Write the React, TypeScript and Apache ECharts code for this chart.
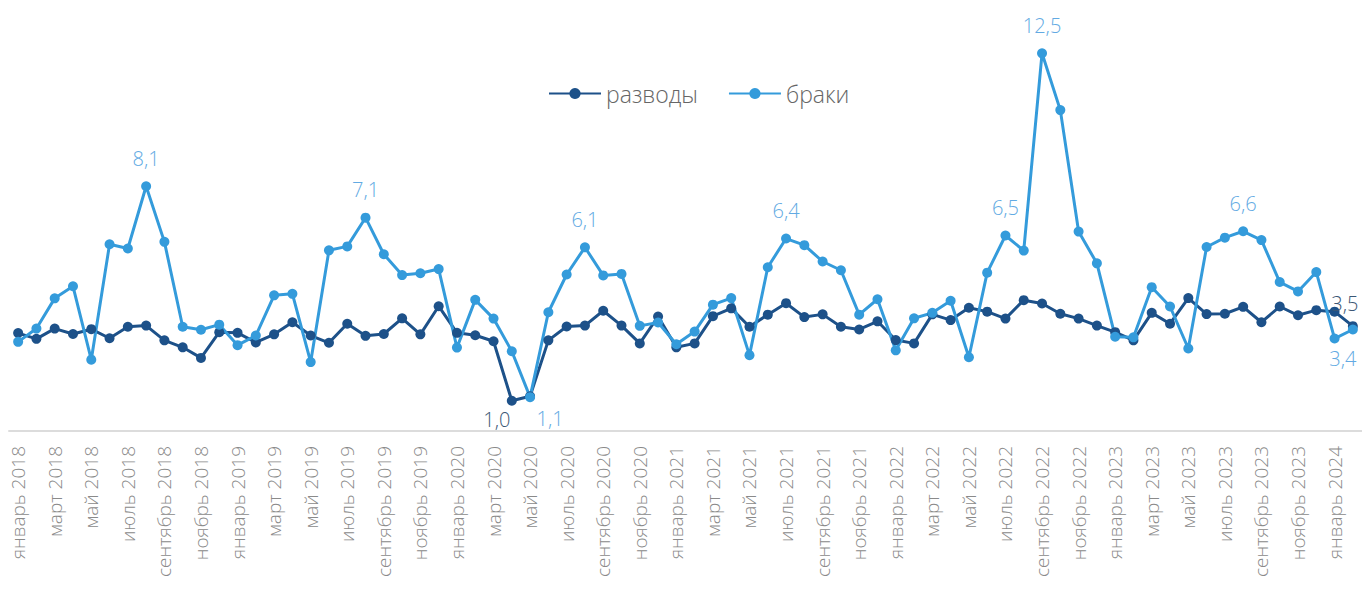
import React, { useEffect, useRef } from "react";
import * as echarts from "echarts";

const monthNames = ["январь", "февраль", "март", "апрель", "май", "июнь", "июль", "август", "сентябрь", "октябрь", "ноябрь", "декабрь"];
const years = [2018, 2019, 2020, 2021, 2022, 2023, 2024];
const monthsInLastYear = 2;

const divorces = [
  3.24, 3.05, 3.39, 3.21, 3.37, 3.07, 3.45, 3.49, 3.0, 2.77, 2.42, 3.27,
  3.25, 2.93, 3.2, 3.6, 3.16, 2.92, 3.55, 3.15, 3.21, 3.73, 3.2, 4.13,
  3.25, 3.17, 2.97, 1.0, 1.15, 3.0, 3.46, 3.49, 3.98, 3.49, 2.9, 3.79,
  2.77, 2.9, 3.8, 4.06, 3.45, 3.85, 4.23, 3.77, 3.86, 3.45, 3.36, 3.63,
  3.01, 2.9, 3.86, 3.67, 4.08, 3.95, 3.72, 4.33, 4.22, 3.88, 3.72, 3.49,
  3.27, 3.0, 3.91, 3.55, 4.4, 3.87, 3.88, 4.11, 3.6, 4.12, 3.83, 4.0,
  3.95, 3.47,
];

const marriages = [
  2.95, 3.39, 4.39, 4.79, 2.36, 6.18, 6.04, 8.1, 6.26, 3.45, 3.35, 3.52,
  2.84, 3.16, 4.49, 4.54, 2.28, 5.98, 6.11, 7.06, 5.85, 5.16, 5.22, 5.36,
  2.76, 4.34, 3.72, 2.64, 1.12, 3.93, 5.18, 6.08, 5.15, 5.2, 3.48, 3.59,
  2.87, 3.29, 4.18, 4.4, 2.51, 5.42, 6.37, 6.15, 5.61, 5.32, 3.85, 4.36,
  2.67, 3.73, 3.91, 4.31, 2.44, 5.24, 6.47, 5.97, 12.5, 10.62, 6.6, 5.55,
  3.12, 3.1, 4.76, 4.12, 2.73, 6.09, 6.4, 6.61, 6.32, 4.93, 4.62, 5.26,
  3.06, 3.36,
];

// labelled points: index -> label offset from the point centre
const divorceLabels: Record<number, [number, number]> = { 27: [-15, 19], 73: [-8, -23] };
const marriageLabels: Record<number, [number, number]> = {
  7: [0, -28], 19: [0, -28], 28: [20, 21], 31: [0, -28], 42: [0, -28],
  54: [0, -28], 56: [0, -28], 67: [0, -28], 73: [-10, 29],
};

const categories: string[] = [];
years.forEach((y, yi) => {
  const n = yi === years.length - 1 ? monthsInLastYear : 12;
  for (let m = 0; m < n; m++) categories.push(`${monthNames[m]} ${y}`);
});

const FONT = "'Open Sans', sans-serif";
const DARK = "#1d5189";
const LIGHT = "#349bdb";

function buildData(values: number[], labels: Record<number, [number, number]>, color: string) {
  return values.map((v, i) => {
    const off = labels[i];
    if (!off) return v;
    return {
      value: v,
      label: {
        show: true,
        position: "inside",
        offset: off,
        formatter: (p: any) => Number(p.value).toFixed(1).replace(".", ","),
        color,
        fontSize: 20,
        fontFamily: FONT,
        fontWeight: 300,
      },
    };
  });
}

export default function App() {
  const ref = useRef<HTMLDivElement>(null);
  useEffect(() => {
    if (!ref.current) return;
    const chart = echarts.init(ref.current, undefined, { renderer: "svg" });
    chart.setOption({
      animation: false,
      backgroundColor: "#ffffff",
      legend: {
        data: ["разводы", "браки"],
        left: 543,
        top: 77,
        itemWidth: 52,
        itemHeight: 14,
        itemGap: 30,
        textStyle: { fontSize: 23, color: "#666666", fontFamily: FONT, fontWeight: 300 },
      },
      grid: { left: 9, width: 1355, top: 8, bottom: 162, containLabel: false },
      xAxis: {
        type: "category",
        data: categories,
        boundaryGap: true,
        axisLine: { lineStyle: { color: "#dcdcdc", width: 2 } },
        axisTick: { show: false },
        axisLabel: {
          interval: 1,
          rotate: 90,
          margin: 15,
          fontSize: 19,
          color: "#8a8a8a",
          fontFamily: FONT,
          fontWeight: 300,
        },
      },
      yAxis: {
        type: "value",
        min: 0,
        max: 14,
        show: false,
        splitLine: { show: false },
      },
      series: [
        {
          name: "разводы",
          type: "line",
          data: buildData(divorces, divorceLabels, "#3b5775"),
          symbol: "circle",
          symbolSize: 10,
          showSymbol: true,
          showAllSymbol: true,
          lineStyle: { width: 3, color: DARK },
          itemStyle: { color: DARK },
          emphasis: { disabled: true },
        },
        {
          name: "браки",
          type: "line",
          data: buildData(marriages, marriageLabels, "#62aae3"),
          symbol: "circle",
          symbolSize: 10,
          showSymbol: true,
          showAllSymbol: true,
          lineStyle: { width: 3, color: LIGHT },
          itemStyle: { color: LIGHT },
          emphasis: { disabled: true },
        },
      ],
    });
    return () => chart.dispose();
  }, []);
  return (
    <div
      ref={ref}
      style={{ position: "fixed", left: 0, top: 0, width: 1362, height: 593 }}
    />
  );
}
